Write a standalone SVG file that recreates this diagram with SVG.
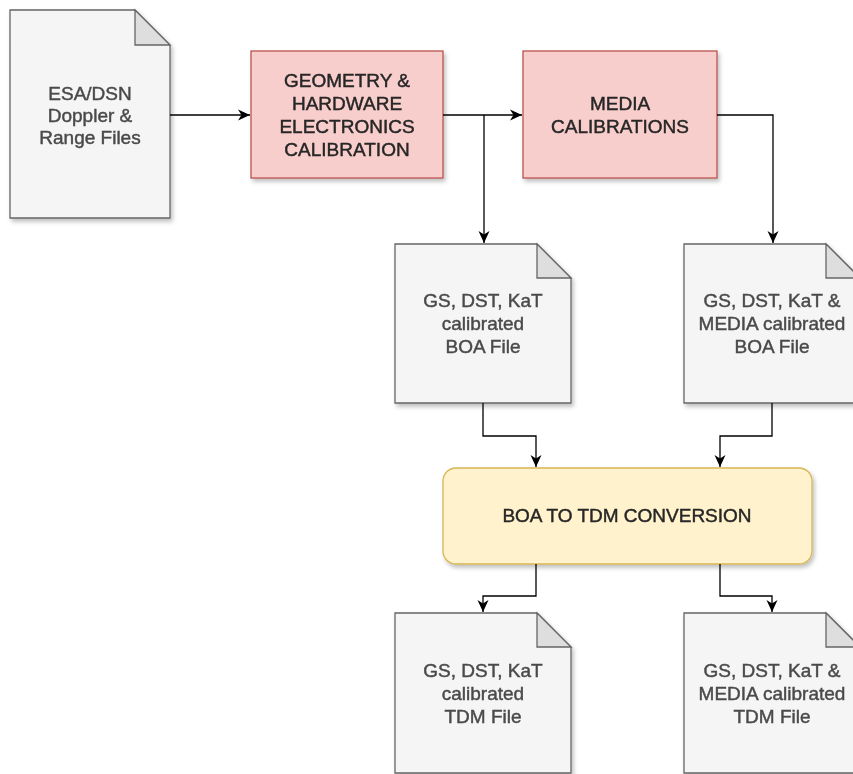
<svg xmlns="http://www.w3.org/2000/svg" width="853" height="774" viewBox="0 0 853 774">
<defs>
<filter id="sh" x="-10%" y="-10%" width="130%" height="130%">
<feDropShadow dx="2" dy="3" stdDeviation="2" flood-color="#000" flood-opacity="0.25"/>
</filter>
<marker id="arr" markerWidth="14" markerHeight="12" refX="12" refY="6" orient="auto" markerUnits="userSpaceOnUse">
<path d="M0,0.5 L12,6 L0,11.5 L3.5,6 Z" fill="#000"/>
</marker>
<style>
.doc{fill:#f5f5f5;stroke:#666;stroke-width:1.3}
.fold{fill:#dedede;stroke:#666;stroke-width:1.3}
.red{fill:#f8cecc;stroke:#b85450;stroke-width:1.3}
.yel{fill:#fff2cc;stroke:#d6b656;stroke-width:1.3}
.t{font-family:"Liberation Sans",Arial,sans-serif;font-size:19px;text-anchor:middle;stroke-width:0.45}
.dt{fill:#4a4a4a;stroke:#4a4a4a}
.bt{fill:#262626;stroke:#262626}
.c{fill:none;stroke:#000;stroke-width:1.3;marker-end:url(#arr)}
</style>
</defs>
<rect width="853" height="774" fill="#fff"/>

<g id="doc-esa" filter="url(#sh)">
<path class="doc" d="M10,10 H135 L170,45 V218 H10 Z"/>
<path class="fold" d="M135,10 V45 H170 Z"/>
<text class="t dt" x="90" y="100">ESA/DSN</text>
<text class="t dt" x="90" y="122">Doppler &amp;</text>
<text class="t dt" x="90" y="144">Range Files</text>
</g>

<g id="geometry" filter="url(#sh)">
<rect class="red" x="251" y="51" width="192" height="127"/>
<text class="t bt" x="347" y="87">GEOMETRY &amp;</text>
<text class="t bt" x="347" y="110">HARDWARE</text>
<text class="t bt" x="347" y="133">ELECTRONICS</text>
<text class="t bt" x="347" y="156">CALIBRATION</text>
</g>

<g id="media" filter="url(#sh)">
<rect class="red" x="523" y="51" width="194" height="127"/>
<text class="t bt" x="620" y="110">MEDIA</text>
<text class="t bt" x="620" y="133">CALIBRATIONS</text>
</g>

<g id="doc-boa1" filter="url(#sh)">
<path class="doc" d="M395,244 H537 L571,278 V403 H395 Z"/>
<path class="fold" d="M537,244 V278 H571 Z"/>
<text class="t dt" x="483" y="307">GS, DST, KaT</text>
<text class="t dt" x="483" y="330">calibrated</text>
<text class="t dt" x="483" y="353">BOA File</text>
</g>

<g id="doc-boa2" filter="url(#sh)">
<path class="doc" d="M684,244 H826 L860,278 V403 H684 Z"/>
<path class="fold" d="M826,244 V278 H860 Z"/>
<text class="t dt" x="772" y="307">GS, DST, KaT &amp;</text>
<text class="t dt" x="772" y="330">MEDIA calibrated</text>
<text class="t dt" x="772" y="353">BOA File</text>
</g>

<g id="conversion" filter="url(#sh)">
<rect class="yel" x="443" y="468" width="369" height="96" rx="13" ry="13"/>
<text class="t bt" x="627" y="522">BOA TO TDM CONVERSION</text>
</g>

<g id="doc-tdm1" filter="url(#sh)">
<path class="doc" d="M395,613 H537 L571,647 V773 H395 Z"/>
<path class="fold" d="M537,613 V647 H571 Z"/>
<text class="t dt" x="483" y="677">GS, DST, KaT</text>
<text class="t dt" x="483" y="700">calibrated</text>
<text class="t dt" x="483" y="723">TDM File</text>
</g>

<g id="doc-tdm2" filter="url(#sh)">
<path class="doc" d="M684,613 H826 L860,647 V773 H684 Z"/>
<path class="fold" d="M826,613 V647 H860 Z"/>
<text class="t dt" x="772" y="677">GS, DST, KaT &amp;</text>
<text class="t dt" x="772" y="700">MEDIA calibrated</text>
<text class="t dt" x="772" y="723">TDM File</text>
</g>

<g id="connectors">
<path class="c" d="M170,115 H250"/>
<path class="c" d="M443,115 H522"/>
<path class="c" d="M484,115 V243"/>
<path class="c" d="M717,115 H773 V243"/>
<path class="c" d="M483,403 V436 H536 V467"/>
<path class="c" d="M772,403 V436 H720 V467"/>
<path class="c" d="M536,564 V596 H483 V612"/>
<path class="c" d="M720,564 V596 H772 V612"/>
</g>
</svg>
